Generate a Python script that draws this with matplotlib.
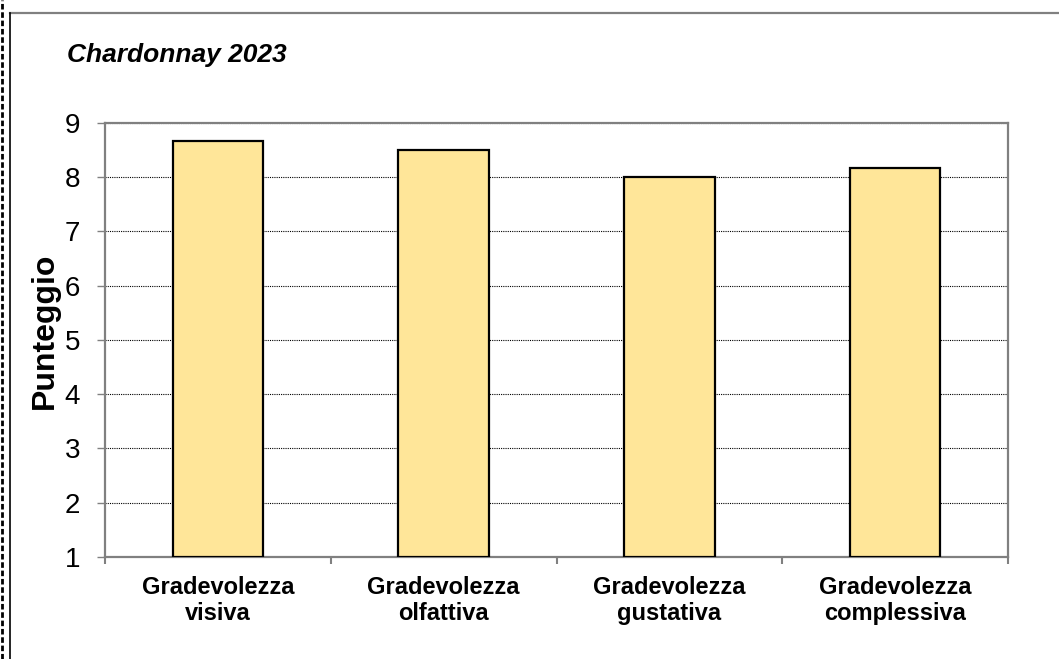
import matplotlib.pyplot as plt
from matplotlib.lines import Line2D

categories = ["Gradevolezza\nvisiva", "Gradevolezza\nolfattiva",
              "Gradevolezza\ngustativa", "Gradevolezza\ncomplessiva"]
scores = [8.67, 8.5, 8.0, 8.17]
y_ticks = [1, 2, 3, 4, 5, 6, 7, 8, 9]

plt.rcParams['font.family'] = ['Liberation Sans', 'DejaVu Sans']

W, H = 1059, 659
fig = plt.figure(figsize=(W / 100, H / 100), dpi=100)
ax = fig.add_axes([105 / W, 1 - 557 / H, (1008 - 105) / W, (557 - 123) / H])

x = list(range(len(categories)))
# bars start at the axis floor (1)
ax.bar(x, [s - 1 for s in scores], bottom=1, width=0.4,
       color='#FFE699', edgecolor='black', linewidth=1.6, zorder=3)

ax.set_xlim(-0.5, len(categories) - 0.5)
ax.set_ylim(1, 9)
ax.set_yticks(y_ticks)
ax.set_yticklabels([str(t) for t in y_ticks], fontsize=20)
ax.tick_params(axis='y', length=6, width=1, color='#808080', pad=12)

# category ticks sit between the bars
ax.set_xticks([i - 0.5 for i in range(len(categories) + 1)])
ax.set_xticklabels([])
ax.set_xticks(x, minor=True)
ax.set_xticklabels(categories, minor=True, fontsize=17, fontweight='bold',
                   linespacing=1.15)
ax.tick_params(axis='x', which='major', length=5, width=1.5, color='#808080')
ax.tick_params(axis='x', which='minor', length=0, pad=14)

ax.yaxis.grid(True, linestyle=(0, (1, 1)), color='black', linewidth=0.8, zorder=0)
ax.set_axisbelow(True)

for s in ax.spines.values():
    s.set_color('#808080')
    s.set_linewidth(1.6)

ax.set_ylabel("Punteggio", fontsize=23, fontweight='bold')
ax.yaxis.set_label_coords(-45 / (1008 - 105), (557 - 331) / (557 - 123))

fig.text(67 / W, 1 - 62 / H, "Chardonnay 2023", fontsize=19,
         fontweight='bold', fontstyle='italic', va='baseline')

# outer chart frame
fig.add_artist(Line2D([10 / W, 1], [1 - 13 / H] * 2, color='#808080', lw=1.6))
fig.add_artist(Line2D([10 / W] * 2, [0, 1 - 13 / H], color='black', lw=1.2))
fig.add_artist(Line2D([2 / W] * 2, [0, 1], color='black', lw=2,
                      linestyle=(0, (2, 1))))

fig.savefig("out.png", dpi=100)
